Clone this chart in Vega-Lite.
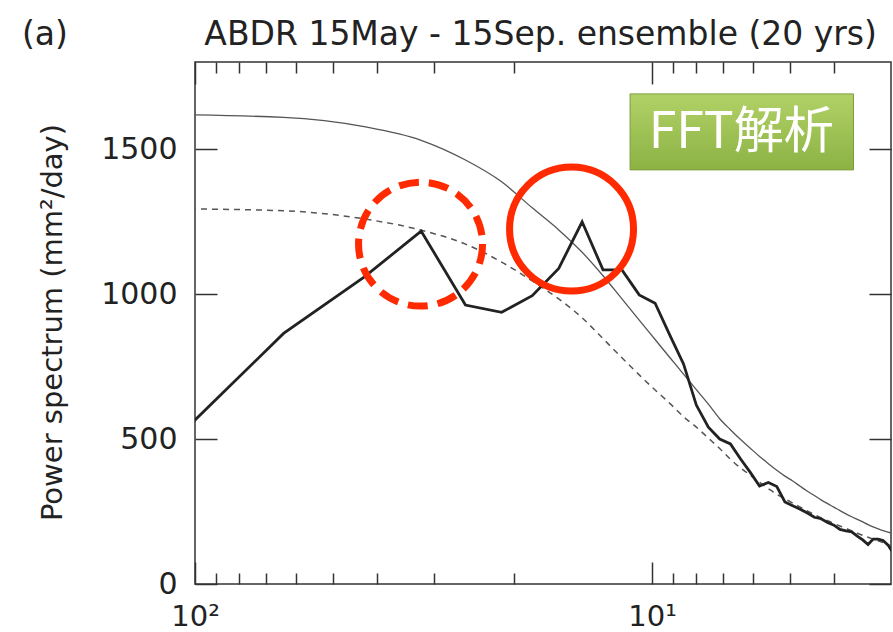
{
  "$schema": "https://vega.github.io/schema/vega-lite/v6.json",
  "width": 696,
  "height": 522,
  "autosize": {"type": "none"},
  "padding": {"left": 195, "top": 62, "right": 2, "bottom": 48},
  "background": "white",
  "title": {
    "text": "(a)\u00a0\u00a0\u00a0\u00a0\u00a0\u00a0\u00a0\u00a0\u00a0\u00a0\u00a0\u00a0\u00a0ABDR 15May - 15Sep. ensemble (20 yrs)",
    "anchor": "start",
    "frame": "group",
    "dx": -173,
    "dy": 37,
    "offset": 20,
    "baseline": "alphabetic",
    "font": "DejaVu Sans",
    "fontSize": 33,
    "fontWeight": "normal",
    "color": "#222"
  },
  "config": {
    "view": {"stroke": "#333", "strokeWidth": 1.5},
    "axis": {
      "domain": false,
      "grid": false,
      "tickColor": "#333",
      "tickWidth": 1.5,
      "labelFont": "DejaVu Sans",
      "labelFontSize": 30,
      "labelColor": "#222",
      "titleFont": "DejaVu Sans",
      "titleFontWeight": "normal",
      "titleColor": "#222"
    }
  },
  "datasets": {
    "spectrum": [
      {"period": 128, "observed": 400, "upper": 1620, "red": 1295},
      {"period": 64, "observed": 864, "upper": 1609, "red": 1287},
      {"period": 42.667, "observed": 1058, "upper": 1577, "red": 1259},
      {"period": 32, "observed": 1217, "upper": 1530, "red": 1220},
      {"period": 25.6, "observed": 962, "upper": 1462, "red": 1172},
      {"period": 21.333, "observed": 937, "upper": 1387, "red": 1110},
      {"period": 18.286, "observed": 994, "upper": 1297, "red": 1045},
      {"period": 16, "observed": 1088, "upper": 1221, "red": 983},
      {"period": 14.222, "observed": 1249, "upper": 1144, "red": 918},
      {"period": 12.8, "observed": 1083, "upper": 1063, "red": 846},
      {"period": 11.636, "observed": 1083, "upper": 983, "red": 780},
      {"period": 10.667, "observed": 997, "upper": 910, "red": 721},
      {"period": 9.846, "observed": 968, "upper": 843, "red": 669},
      {"period": 9.143, "observed": 858, "upper": 781, "red": 623},
      {"period": 8.533, "observed": 759, "upper": 724, "red": 577},
      {"period": 8, "observed": 617, "upper": 670, "red": 541},
      {"period": 7.529, "observed": 541, "upper": 620, "red": 503},
      {"period": 7.111, "observed": 500, "upper": 570, "red": 467},
      {"period": 6.737, "observed": 483, "upper": 532, "red": 430},
      {"period": 6.4, "observed": 431, "upper": 498, "red": 400},
      {"period": 6.095, "observed": 385, "upper": 468, "red": 375},
      {"period": 5.818, "observed": 338, "upper": 440, "red": 351},
      {"period": 5.565, "observed": 350, "upper": 415, "red": 329},
      {"period": 5.333, "observed": 336, "upper": 392, "red": 309},
      {"period": 5.12, "observed": 283, "upper": 372, "red": 294},
      {"period": 4.923, "observed": 270, "upper": 355, "red": 279},
      {"period": 4.741, "observed": 258, "upper": 337, "red": 265},
      {"period": 4.571, "observed": 245, "upper": 320, "red": 252},
      {"period": 4.414, "observed": 230, "upper": 305, "red": 239},
      {"period": 4.267, "observed": 225, "upper": 290, "red": 228},
      {"period": 4.129, "observed": 212, "upper": 277, "red": 218},
      {"period": 4, "observed": 203, "upper": 265, "red": 209},
      {"period": 3.879, "observed": 188, "upper": 253, "red": 200},
      {"period": 3.765, "observed": 183, "upper": 242, "red": 192},
      {"period": 3.657, "observed": 180, "upper": 232, "red": 183},
      {"period": 3.556, "observed": 165, "upper": 223, "red": 175},
      {"period": 3.459, "observed": 152, "upper": 214, "red": 168},
      {"period": 3.368, "observed": 136, "upper": 205, "red": 161},
      {"period": 3.282, "observed": 155, "upper": 197, "red": 155},
      {"period": 3.2, "observed": 155, "upper": 190, "red": 149},
      {"period": 3.122, "observed": 150, "upper": 184, "red": 143},
      {"period": 3.048, "observed": 135, "upper": 179, "red": 136},
      {"period": 2.977, "observed": 110, "upper": 175, "red": 129}
    ]
  },
  "layer": [
    {
      "data": {"name": "spectrum"},
      "mark": {"type": "line", "color": "#555", "strokeWidth": 1.5, "strokeDash": [6, 5], "clip": true, "interpolate": "monotone"},
      "encoding": {
        "x": {"field": "period", "type": "quantitative",
              "scale": {"type": "log", "domain": [3, 100], "reverse": true, "nice": false, "zero": false},
              "axis": {"orient": "bottom", "title": null,
                       "values": [100, 90, 80, 70, 60, 50, 40, 30, 20, 10, 9, 8, 7, 6, 5, 4],
                       "tickSize": {"condition": {"test": "datum.value == 100 || datum.value == 10", "value": -22}, "value": -11},
                       "labelExpr": "datum.value == 100 ? '10²' : (datum.value == 10 ? '10¹' : '')",
                       "labelFontSize": 29,
                       "labelPadding": 40, "labelFlush": false, "labelOverlap": false, "labelBaseline": "top"}},
        "y": {"field": "red", "type": "quantitative",
              "scale": {"domain": [0, 1800], "nice": false, "zero": true},
              "axis": {"orient": "left", "values": [0, 500, 1000, 1500], "format": "d", "tickSize": -22, "labelPadding": 40,
                       "title": "Power spectrum (mm²/day)", "titleFontSize": 29, "titleX": -143, "titleY": 260,
                       "titleAngle": -90, "titleAlign": "center", "titleBaseline": "middle"}}
      }
    },
    {
      "data": {"name": "spectrum"},
      "mark": {"type": "line", "color": "#555", "strokeWidth": 1.3, "clip": true, "interpolate": "monotone"},
      "encoding": {
        "x": {"field": "period", "type": "quantitative",
              "scale": {"type": "log", "domain": [3, 100], "reverse": true, "nice": false, "zero": false},
              "axis": {"orient": "top", "title": null, "labels": false,
                       "values": [100, 90, 80, 70, 60, 50, 40, 30, 20, 10, 9, 8, 7, 6, 5, 4],
                       "tickSize": {"condition": {"test": "datum.value == 100 || datum.value == 10", "value": -22}, "value": -11}}},
        "y": {"field": "upper", "type": "quantitative",
              "scale": {"domain": [0, 1800], "nice": false, "zero": true},
              "axis": {"orient": "right", "values": [0, 500, 1000, 1500], "tickSize": -22, "labels": false, "title": null}}
      }
    },
    {
      "data": {"name": "spectrum"},
      "mark": {"type": "line", "color": "#222", "strokeWidth": 2.8, "clip": true},
      "encoding": {
        "x": {"field": "period", "type": "quantitative",
              "scale": {"type": "log", "domain": [3, 100], "reverse": true, "nice": false, "zero": false}, "axis": null},
        "y": {"field": "observed", "type": "quantitative",
              "scale": {"domain": [0, 1800], "nice": false, "zero": true}, "axis": null}
      }
    },
    {
      "data": {"values": [{"period": 32.1, "power": 1172}]},
      "mark": {"type": "point", "shape": "circle", "filled": false, "size": 15376, "stroke": "#ff2a00", "strokeWidth": 7, "strokeDash": [20, 10], "opacity": 1},
      "encoding": {
        "x": {"field": "period", "type": "quantitative",
              "scale": {"type": "log", "domain": [3, 100], "reverse": true, "nice": false, "zero": false}, "axis": null},
        "y": {"field": "power", "type": "quantitative",
              "scale": {"domain": [0, 1800], "nice": false, "zero": true}, "axis": null}
      }
    },
    {
      "data": {"values": [{"period": 15.0, "power": 1224}]},
      "mark": {"type": "point", "shape": "circle", "filled": false, "size": 15376, "stroke": "#ff2a00", "strokeWidth": 7, "opacity": 1},
      "encoding": {
        "x": {"field": "period", "type": "quantitative",
              "scale": {"type": "log", "domain": [3, 100], "reverse": true, "nice": false, "zero": false}, "axis": null},
        "y": {"field": "power", "type": "quantitative",
              "scale": {"domain": [0, 1800], "nice": false, "zero": true}, "axis": null}
      }
    },
    {
      "data": {"values": [{"x1": 11.17, "x2": 3.624, "y1": 1690, "y2": 1428}]},
      "mark": {"type": "rect", "stroke": "#7d9c3e", "strokeWidth": 1,
               "fill": {"gradient": "linear", "x1": 0, "y1": 0, "x2": 0, "y2": 1,
                        "stops": [{"offset": 0, "color": "#b1d166"}, {"offset": 1, "color": "#8cb244"}]}},
      "encoding": {
        "x": {"field": "x1", "type": "quantitative",
              "scale": {"type": "log", "domain": [3, 100], "reverse": true, "nice": false, "zero": false}, "axis": null},
        "x2": {"field": "x2"},
        "y": {"field": "y1", "type": "quantitative",
              "scale": {"domain": [0, 1800], "nice": false, "zero": true}, "axis": null},
        "y2": {"field": "y2"}
      }
    },
    {
      "data": {"values": [{"period": 6.38, "power": 1555, "label": "FFT解析"}]},
      "mark": {"type": "text", "font": "Noto Sans CJK JP", "fontSize": 50, "color": "white", "align": "center", "baseline": "middle"},
      "encoding": {
        "x": {"field": "period", "type": "quantitative",
              "scale": {"type": "log", "domain": [3, 100], "reverse": true, "nice": false, "zero": false}, "axis": null},
        "y": {"field": "power", "type": "quantitative",
              "scale": {"domain": [0, 1800], "nice": false, "zero": true}, "axis": null},
        "text": {"field": "label"}
      }
    }
  ],
  "resolve": {"axis": {"x": "independent", "y": "independent"}}
}
